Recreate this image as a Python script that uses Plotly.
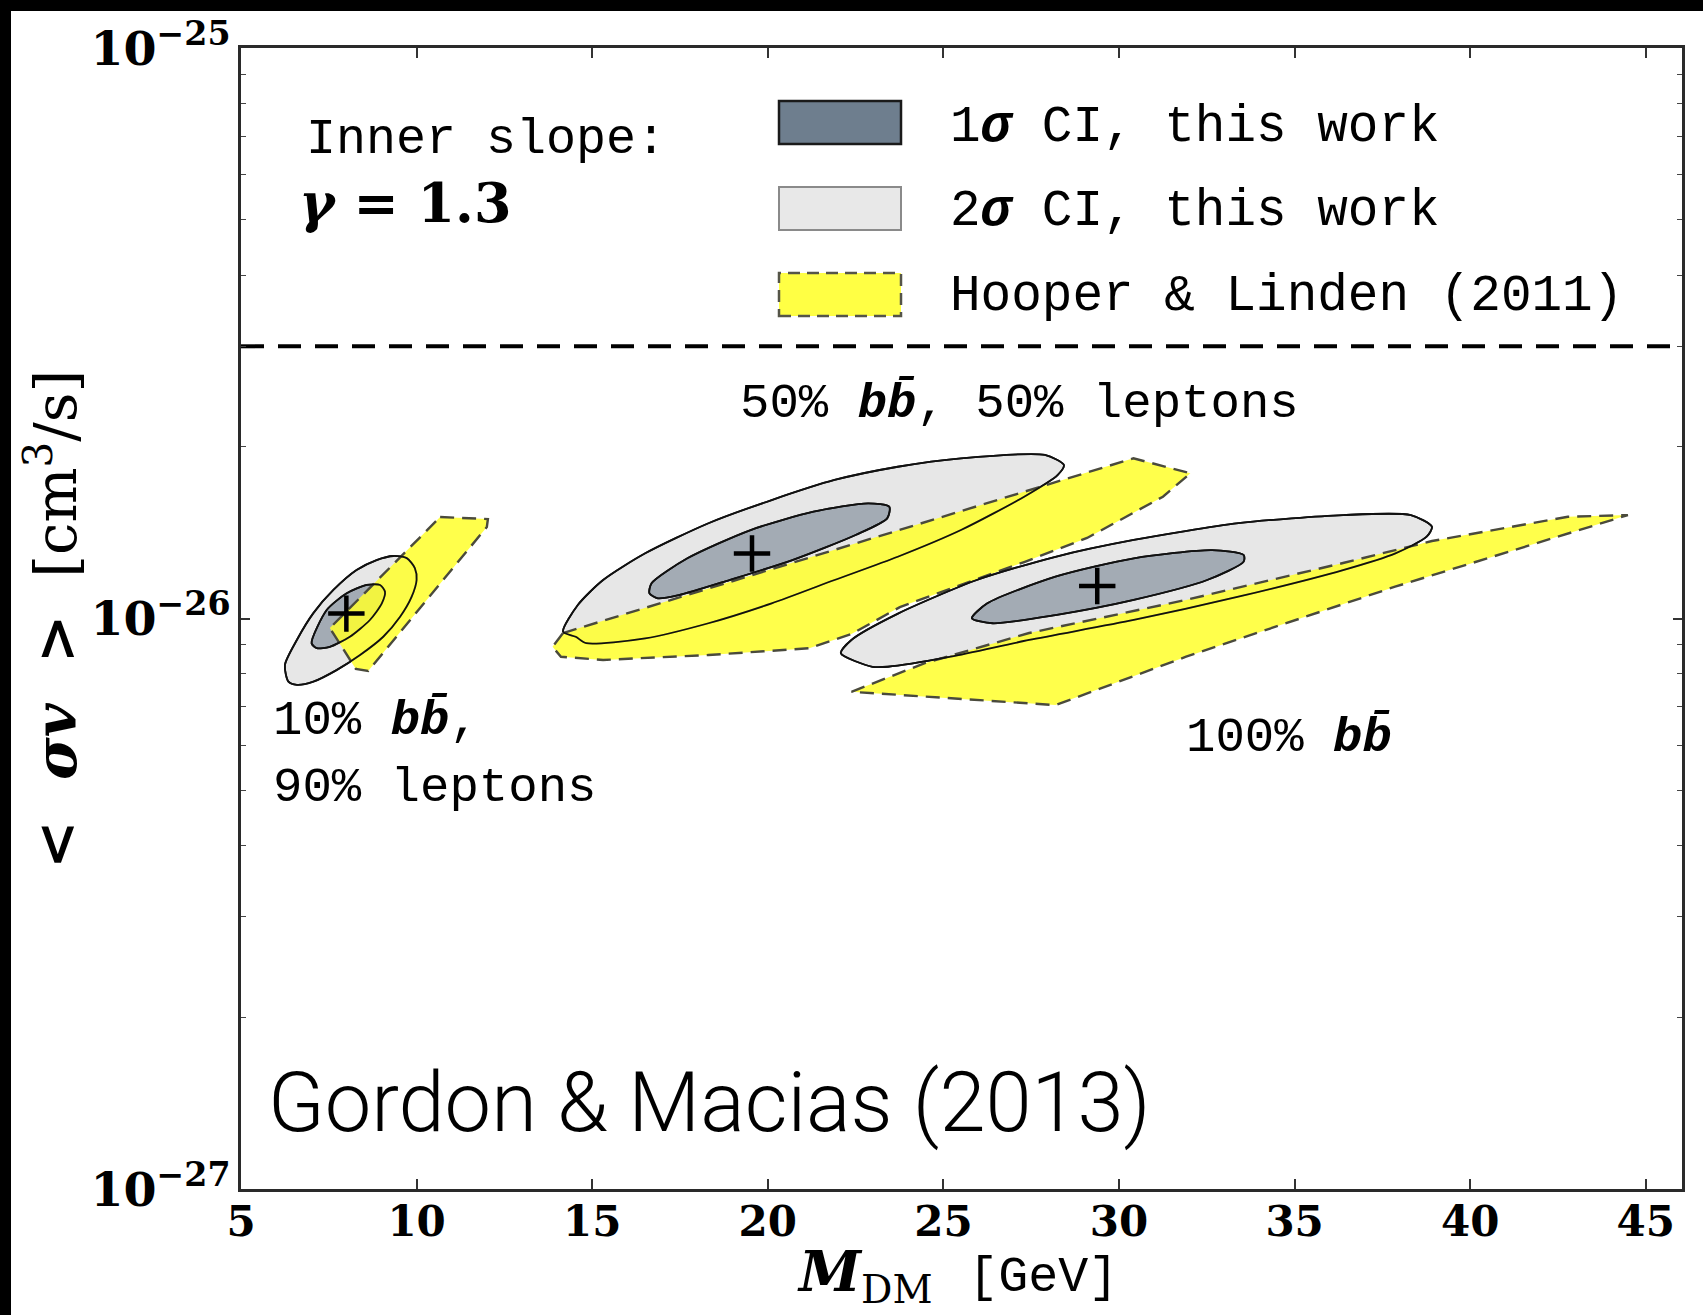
import plotly.graph_objects as go

# ---------------- data (M_DM in GeV, <sigma v> in units of 1e-26 cm^3/s) ----------------
SV_UNIT = 1e-26
THERMAL_SV = 3.0  # x 1e-26

x_ticks = [5, 10, 15, 20, 25, 30, 35, 40, 45]
x_range = [5, 46.03]
y_range_log = [-27, -25]

# 10% bb, 90% leptons
small_2s_m = [6.35, 6.25, 6.59, 7.06, 7.63, 8.29, 8.86, 9.34, 9.72, 9.95, 10.00, 9.86, 9.53, 9.05, 8.39, 7.72, 7.06, 6.59]
small_2s_sv = [0.775, 0.829, 0.917, 1.022, 1.122, 1.216, 1.266, 1.287, 1.276, 1.226, 1.168, 1.092, 1.007, 0.929, 0.863, 0.812, 0.775, 0.765]
small_1s_m = [7.01, 7.44, 8.01, 8.58, 8.96, 9.10, 9.01, 8.67, 8.10, 7.53, 7.16]
small_1s_sv = [0.905, 1.035, 1.107, 1.145, 1.145, 1.114, 1.063, 0.994, 0.929, 0.892, 0.887]
small_hl_m = [10.67, 12.03, 12.00, 8.62, 8.27, 7.53]
small_hl_sv = [1.506, 1.494, 1.447, 0.809, 0.816, 0.962]

# 50% bb, 50% leptons
mid_2s_m = [14.17, 14.59, 15.31, 16.51, 18.31, 20.11, 21.90, 23.70, 25.50, 27.89, 28.43, 28.25, 27.30, 25.50, 23.70, 21.90, 20.11, 18.31, 16.51, 14.83, 14.53]
mid_2s_sv = [0.948, 1.056, 1.168, 1.301, 1.469, 1.613, 1.749, 1.845, 1.909, 1.935, 1.858, 1.784, 1.635, 1.429, 1.283, 1.168, 1.063, 0.981, 0.923, 0.905, 0.929]
mid_1s_m = [16.63, 16.69, 17.71, 19.51, 21.30, 22.86, 23.46, 23.40, 22.50, 20.70, 18.91, 17.47, 16.87]
mid_1s_sv = [1.107, 1.153, 1.275, 1.429, 1.539, 1.592, 1.570, 1.498, 1.401, 1.266, 1.168, 1.099, 1.085]
mid_hl_m = [14.17, 15.91, 17.10, 20.70, 23.10, 25.50, 27.66, 28.60, 30.41, 32.03, 31.25, 29.09, 27.30, 25.50, 23.76, 22.38, 21.18, 18.31, 15.31, 14.11, 13.87]
mid_hl_sv = [0.943, 1.017, 1.071, 1.253, 1.389, 1.543, 1.694, 1.764, 1.909, 1.797, 1.635, 1.384, 1.256, 1.145, 1.047, 0.939, 0.887, 0.863, 0.846, 0.857, 0.892]

# 100% bb
big_2s_m = [22.08, 22.38, 23.72, 25.95, 28.19, 30.42, 33.40, 36.38, 38.31, 38.91, 38.76, 37.87, 36.38, 33.40, 30.42, 27.44, 25.21, 23.42, 22.98]
big_2s_sv = [0.869, 0.917, 1.021, 1.168, 1.283, 1.373, 1.469, 1.518, 1.518, 1.448, 1.391, 1.301, 1.216, 1.092, 0.994, 0.917, 0.857, 0.823, 0.823]
big_1s_m = [25.81, 26.25, 28.19, 30.42, 32.65, 33.55, 33.55, 32.51, 30.42, 28.19, 26.40]
big_1s_sv = [1.001, 1.063, 1.184, 1.275, 1.318, 1.292, 1.258, 1.168, 1.078, 1.014, 0.981]
big_hl_m = [22.38, 24.47, 27.44, 31.91, 36.38, 38.91, 42.78, 44.49, 37.86, 31.91, 28.19]
big_hl_sv = [0.744, 0.835, 0.943, 1.078, 1.251, 1.367, 1.508, 1.518, 1.137, 0.857, 0.705]

best_m = [8.0, 19.55, 29.38]
best_sv = [1.02, 1.30, 1.14]

# ---------------- styles ----------------
C2_FILL = "#e7e7e7"
C1_FILL = "#a3abb4"
HL_FILL = "rgba(255,255,45,0.86)"
HL_LINE = "#4a4a3c"
TT = "Liberation Mono, monospace"
SERIF = "DejaVu Serif, serif"
NB = "\u00a0"

fig = go.Figure()


def closed(xs, ys):
    return list(xs) + [xs[0]], [v * SV_UNIT for v in ys] + [ys[0] * SV_UNIT]


def add_fill(xs, ys, fill, line_color, width, dash="solid", shape="linear"):
    cx, cy = closed(xs, ys)
    fig.add_trace(go.Scatter(x=cx, y=cy, mode="lines", fill="toself", fillcolor=fill,
                             line=dict(color=line_color, width=width, dash=dash, shape=shape, smoothing=0.7),
                             hoverinfo="skip", showlegend=False))


def add_outline(xs, ys, color, width):
    cx, cy = closed(xs, ys)
    fig.add_trace(go.Scatter(x=cx, y=cy, mode="lines",
                             line=dict(color=color, width=width, shape="spline", smoothing=0.7),
                             hoverinfo="skip", showlegend=False))


blobs = [
    (small_2s_m, small_2s_sv, small_1s_m, small_1s_sv, small_hl_m, small_hl_sv),
    (mid_2s_m, mid_2s_sv, mid_1s_m, mid_1s_sv, mid_hl_m, mid_hl_sv),
    (big_2s_m, big_2s_sv, big_1s_m, big_1s_sv, big_hl_m, big_hl_sv),
]
for b2m, b2s, b1m, b1s, hm, hs in blobs:
    add_fill(b2m, b2s, C2_FILL, "#111111", 1.8, shape="spline")
    add_fill(b1m, b1s, C1_FILL, "#111111", 1.8, shape="spline")
    add_fill(hm, hs, HL_FILL, HL_LINE, 2.4, dash="14px,8px")
    add_outline(b2m, b2s, "#111111", 1.8)
    add_outline(b1m, b1s, "#111111", 1.8)

fig.add_trace(go.Scatter(x=best_m, y=[v * SV_UNIT for v in best_sv], mode="markers",
                         marker=dict(symbol="cross-thin", size=26, line=dict(width=4.5, color="black")),
                         hoverinfo="skip", showlegend=False))

fig.add_trace(go.Scatter(x=x_range, y=[THERMAL_SV * SV_UNIT] * 2, mode="lines",
                         line=dict(color="black", width=4, dash="23px,14px"),
                         hoverinfo="skip", showlegend=False))

# ---------------- layout ----------------
W, H = 1703, 1315
L, R, T, B = 241, 21, 48, 126
PW, PH = W - L - R, H - T - B


def px(xp):
    return (xp - L) / PW


def py(yp):
    return (H - B - yp) / PH


axis_common = dict(showline=True, linecolor="#2a2a2a", linewidth=2.5, mirror="ticks",
                   ticks="inside", tickcolor="#333333", tickwidth=1.5, showgrid=False,
                   zeroline=False)

fig.update_layout(
    width=W, height=H, autosize=False,
    margin=dict(l=L, r=R, t=T, b=B, pad=0),
    paper_bgcolor="white", plot_bgcolor="white",
    showlegend=False,
    xaxis=dict(range=x_range, tickvals=x_ticks, ticklen=10, ticklabelstandoff=-6,
               tickfont=dict(family=SERIF, size=42, color="black", weight="bold"),
               **axis_common),
    yaxis=dict(type="log", range=y_range_log, dtick=1, ticklen=9, exponentformat="power",
               ticklabelstandoff=0,
               minor=dict(ticks="inside", ticklen=5, dtick="D1", tickcolor="#444444", tickwidth=1.2, showgrid=False),
               tickfont=dict(family=SERIF, size=38, color="black", weight="bold"),
               **axis_common),
)

ann = []
# axis titles
ann.append(dict(text="<b><i>M</i></b><sub>DM</sub>" + NB * 2 + "<span style='font-family:Liberation Mono;font-size:50px'>[GeV]</span>",
                x=px(957), y=py(1275), xref="paper", yref="paper", showarrow=False,
                xanchor="center", yanchor="middle", font=dict(family=SERIF, size=56, color="black")))
ann.append(dict(text="<b>&lt;" + NB * 2 + "<i>σv</i>" + NB * 2 + "&gt;</b>" + NB * 2 + "[cm<sup>3</sup>/s]",
                x=px(52), y=py(620), xref="paper", yref="paper", showarrow=False, textangle=-90,
                xanchor="center", yanchor="middle", font=dict(family=SERIF, size=58, color="black")))
# inner slope
ann.append(dict(text="Inner slope:", x=px(304), y=py(139), xref="paper", yref="paper", showarrow=False,
                xanchor="left", yanchor="middle", font=dict(family=TT, size=50, color="black")))
ann.append(dict(text="<b><i>γ</i> = 1.3</b>", x=px(297), y=py(203), xref="paper", yref="paper", showarrow=False,
                xanchor="left", yanchor="middle", font=dict(family=SERIF, size=54, color="black")))
# legend
leg_rows = [("1<b><i>σ</i></b> CI, this work", 128), ("2<b><i>σ</i></b> CI, this work", 212),
            ("Hooper &amp; Linden (2011)", 296)]
for txt, yy in leg_rows:
    ann.append(dict(text=txt, x=px(948), y=py(yy), xref="paper", yref="paper", showarrow=False,
                    xanchor="left", yanchor="middle", font=dict(family=TT, size=51, color="black")))
# region labels
BB = "<b><i>bb\u0304</i></b>"
ann.append(dict(text="50% " + BB + ", 50% leptons", x=px(738), y=py(404), xref="paper", yref="paper",
                showarrow=False, xanchor="left", yanchor="middle", font=dict(family=TT, size=49, color="black")))
ann.append(dict(text="10% " + BB + ",", x=px(271), y=py(721), xref="paper", yref="paper",
                showarrow=False, xanchor="left", yanchor="middle", font=dict(family=TT, size=49, color="black")))
ann.append(dict(text="90% leptons", x=px(271), y=py(788), xref="paper", yref="paper",
                showarrow=False, xanchor="left", yanchor="middle", font=dict(family=TT, size=49, color="black")))
ann.append(dict(text="100% " + BB, x=px(1184), y=py(738), xref="paper", yref="paper",
                showarrow=False, xanchor="left", yanchor="middle", font=dict(family=TT, size=49, color="black")))
ann.append(dict(text="Gordon &amp; Macias (2013)", x=px(266), y=py(1102), xref="paper", yref="paper",
                showarrow=False, xanchor="left", yanchor="middle",
                font=dict(family="Roboto, Liberation Sans, sans-serif", size=83, color="black", weight=300)))
fig.update_layout(annotations=ann)

shapes = []
# legend patches
shapes.append(dict(type="rect", xref="paper", yref="paper", x0=px(779), x1=px(901), y0=py(144), y1=py(101),
                   fillcolor="#6e7e8e", line=dict(color="#1a1a1a", width=2.5)))
shapes.append(dict(type="rect", xref="paper", yref="paper", x0=px(779), x1=px(901), y0=py(230), y1=py(187),
                   fillcolor="#e8e8e8", line=dict(color="#8a8a8a", width=2)))
shapes.append(dict(type="rect", xref="paper", yref="paper", x0=px(779), x1=px(901), y0=py(316), y1=py(273),
                   fillcolor="#ffff44", line=dict(color="#555548", width=2.5, dash="12px,7px")))
# black frame strips of the screenshot
shapes.append(dict(type="rect", xref="paper", yref="paper", x0=px(-50), x1=px(11), y0=py(H + 50), y1=py(-50),
                   fillcolor="black", line=dict(width=0), layer="above"))
shapes.append(dict(type="rect", xref="paper", yref="paper", x0=px(-50), x1=px(W + 50), y0=py(11), y1=py(-50),
                   fillcolor="black", line=dict(width=0), layer="above"))
fig.update_layout(shapes=shapes)

fig.write_html("out.html", config={"displayModeBar": False},
               post_script="document.body.style.margin='0';document.body.style.overflow='hidden';")
